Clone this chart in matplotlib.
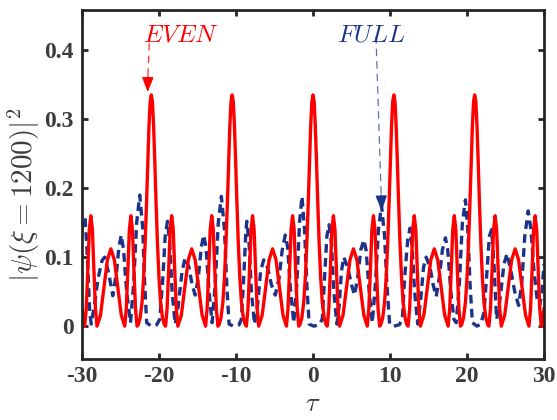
import matplotlib
matplotlib.use("Agg")
import matplotlib.pyplot as plt

plt.rcParams['mathtext.fontset'] = 'cm'

# ---- data ----
red_tau = [
    -30.0, -29.8, -29.65, -29.45, -29.25, -29.05, -28.85, -28.65, -28.45, -28.25, -28.05, -27.6, -27.15, -26.7, -26.25,
    -25.8, -25.35, -24.9, -24.45, -24.25, -24.05, -23.85, -23.65, -23.45, -23.25, -23.05, -22.85, -22.7, -22.45, -22.2,
    -22.0, -21.8, -21.6, -21.45, -21.3, -21.15, -21.0,
    -20.85, -20.7, -20.55, -20.4, -20.2, -20.0, -19.8, -19.55, -19.3, -19.15, -18.95, -18.75, -18.55, -18.35, -18.15,
    -17.95, -17.75, -17.55, -17.1, -16.65, -16.2, -15.75,
    -15.3, -14.85, -14.4, -13.95, -13.75, -13.55, -13.35, -13.15, -12.95, -12.75, -12.55, -12.35, -12.2, -11.95, -11.7,
    -11.5, -11.3, -11.1, -10.95, -10.8, -10.65, -10.5,
    -10.35, -10.2, -10.05, -9.9, -9.7, -9.5, -9.3, -9.05, -8.8, -8.65, -8.45, -8.25, -8.05, -7.85, -7.65, -7.45, -7.25,
    -7.05, -6.6, -6.15, -5.7, -5.25,
    -4.8, -4.35, -3.9, -3.45, -3.25, -3.05, -2.85, -2.65, -2.45, -2.25, -2.05, -1.85, -1.7, -1.45, -1.2, -1.0, -0.8,
    -0.6, -0.45, -0.3, -0.15, 0.0,
    0.15, 0.3, 0.45, 0.6, 0.8, 1.0, 1.2, 1.45, 1.7, 1.85, 2.05, 2.25, 2.45, 2.65, 2.85, 3.05, 3.25, 3.45, 3.9, 4.35,
    4.8, 5.25,
    5.7, 6.15, 6.6, 7.05, 7.25, 7.45, 7.65, 7.85, 8.05, 8.25, 8.45, 8.65, 8.8, 9.05, 9.3, 9.5, 9.7, 9.9, 10.05, 10.2,
    10.35, 10.5,
    10.65, 10.8, 10.95, 11.1, 11.3, 11.5, 11.7, 11.95, 12.2, 12.35, 12.55, 12.75, 12.95, 13.15, 13.35, 13.55, 13.75,
    13.95, 14.4, 14.85, 15.3, 15.75,
    16.2, 16.65, 17.1, 17.55, 17.75, 17.95, 18.15, 18.35, 18.55, 18.75, 18.95, 19.15, 19.3, 19.55, 19.8, 20.0, 20.2,
    20.4, 20.55, 20.7, 20.85, 21.0,
    21.15, 21.3, 21.45, 21.6, 21.8, 22.0, 22.2, 22.45, 22.7, 22.85, 23.05, 23.25, 23.45, 23.65, 23.85, 24.05, 24.25,
    24.45, 24.9, 25.35, 25.8, 26.25,
    26.7, 27.15, 27.6, 28.05, 28.25, 28.45, 28.65, 28.85, 29.05, 29.25, 29.45, 29.65, 29.8, 30.0,
]
red_psi = [
    0.025, 0.006, 0.0, 0.025, 0.08, 0.14, 0.16, 0.14, 0.08, 0.025, 0.0, 0.016, 0.056, 0.096, 0.112,
    0.096, 0.056, 0.016, 0.0, 0.025, 0.08, 0.14, 0.16, 0.14, 0.08, 0.025, 0.0, 0.002, 0.012, 0.035,
    0.07, 0.12, 0.185, 0.24, 0.29, 0.325, 0.335,
    0.325, 0.29, 0.24, 0.185, 0.12, 0.07, 0.035, 0.012, 0.002, 0.0, 0.025, 0.08, 0.14, 0.16, 0.14,
    0.08, 0.025, 0.0, 0.016, 0.056, 0.096, 0.112,
    0.096, 0.056, 0.016, 0.0, 0.025, 0.08, 0.14, 0.16, 0.14, 0.08, 0.025, 0.0, 0.002, 0.012, 0.035,
    0.07, 0.12, 0.185, 0.24, 0.29, 0.325, 0.335,
    0.325, 0.29, 0.24, 0.185, 0.12, 0.07, 0.035, 0.012, 0.002, 0.0, 0.025, 0.08, 0.14, 0.16, 0.14, 0.08, 0.025,
    0.0, 0.016, 0.056, 0.096, 0.112,
    0.096, 0.056, 0.016, 0.0, 0.025, 0.08, 0.14, 0.16, 0.14, 0.08, 0.025, 0.0, 0.002, 0.012, 0.035, 0.07, 0.12,
    0.185, 0.24, 0.29, 0.325, 0.335,
    0.325, 0.29, 0.24, 0.185, 0.12, 0.07, 0.035, 0.012, 0.002, 0.0, 0.025, 0.08, 0.14, 0.16, 0.14, 0.08, 0.025, 0.0,
    0.016, 0.056, 0.096, 0.112,
    0.096, 0.056, 0.016, 0.0, 0.025, 0.08, 0.14, 0.16, 0.14, 0.08, 0.025, 0.0, 0.002, 0.012, 0.035, 0.07, 0.12,
    0.185, 0.24, 0.29, 0.325, 0.335,
    0.325, 0.29, 0.24, 0.185, 0.12, 0.07, 0.035, 0.012, 0.002, 0.0, 0.025, 0.08, 0.14, 0.16, 0.14, 0.08, 0.025,
    0.0, 0.016, 0.056, 0.096, 0.112,
    0.096, 0.056, 0.016, 0.0, 0.025, 0.08, 0.14, 0.16, 0.14, 0.08, 0.025, 0.0, 0.002, 0.012, 0.035, 0.07, 0.12,
    0.185, 0.24, 0.29, 0.325, 0.335,
    0.325, 0.29, 0.24, 0.185, 0.12, 0.07, 0.035, 0.012, 0.002, 0.0, 0.025, 0.08, 0.14, 0.16, 0.14, 0.08, 0.025,
    0.0, 0.016, 0.056, 0.096, 0.112,
    0.096, 0.056, 0.016, 0.0, 0.025, 0.08, 0.14, 0.16, 0.14, 0.08, 0.025, 0.0, 0.006, 0.025,
]

blue_tau = [
    -30.0, -29.6, -29.3, -29.0, -28.8, -28.4, -27.9, -27.4, -27.05, -26.5, -26.0, -25.5, -25.2, -24.9, -24.6, -24.2,
    -23.7, -23.3, -22.9, -22.5, -22.1, -21.9, -21.6, -21.0, -20.3, -19.9, -19.5, -19.2, -18.9, -18.6, -18.3, -17.9,
    -17.5, -17.0, -16.6, -16.1, -15.7, -15.3, -14.9, -14.5, -14.2, -13.9, -13.5, -13.1, -12.7, -12.3, -11.9, -11.5,
    -11.2, -10.9, -10.3, -9.6, -9.3, -9.0, -8.75, -8.6, -8.3, -8.0, -7.6, -7.2, -6.8, -6.4, -5.9, -5.4, -4.9, -4.4,
    -4.0, -3.6, -3.3, -2.9, -2.5, -2.1, -1.75, -1.43, -1.1, -0.8, -0.5, 0.1, 0.8, 1.2, 1.5, 1.8, 2.08, 2.4, 2.7,
    3.1, 3.4, 3.7, 4.0, 4.5, 5.0, 5.4, 5.8, 6.2, 6.6, 6.9, 7.3, 7.7, 8.1, 8.5, 8.9, 9.3, 9.6, 9.95, 10.5, 11.2,
    11.6, 11.9, 12.3, 12.6, 12.9, 13.2, 13.6, 14.0, 14.35, 14.7, 15.2, 15.6, 16.0, 16.4, 16.8, 17.2, 17.5, 17.9,
    18.3, 18.6, 19.0, 19.4, 19.8, 20.1, 20.4, 20.7, 21.3, 21.8, 22.2, 22.6, 22.9, 23.2, 23.5, 23.85, 24.3, 24.8,
    25.2, 25.7, 26.2, 26.7, 27.1, 27.5, 27.95, 28.3, 28.7, 29.1, 29.45, 29.75, 30.0,
]
blue_psi = [
    0.14, 0.158, 0.10, 0.02, 0.003, 0.03, 0.07, 0.095, 0.10, 0.075, 0.044, 0.08, 0.115, 0.132, 0.11, 0.05,
    0.005, 0.06, 0.15, 0.19, 0.14, 0.07, 0.005, 0.0, 0.002, 0.01, 0.07, 0.13, 0.152, 0.12, 0.05, 0.003,
    0.03, 0.08, 0.099, 0.085, 0.06, 0.045, 0.07, 0.115, 0.132, 0.115, 0.05, 0.005, 0.06, 0.15, 0.188, 0.14,
    0.06, 0.003, 0.0, 0.002, 0.01, 0.07, 0.13, 0.152, 0.12, 0.05, 0.003, 0.03, 0.08, 0.096, 0.085, 0.06, 0.045, 0.07,
    0.11, 0.132, 0.115, 0.05, 0.005, 0.06, 0.15, 0.188, 0.14, 0.06, 0.003, 0.0, 0.002, 0.01, 0.07, 0.13, 0.147, 0.12, 0.05,
    0.003, 0.03, 0.08, 0.10, 0.085, 0.06, 0.045, 0.07, 0.11, 0.125, 0.11, 0.05, 0.005, 0.06, 0.14, 0.175, 0.13, 0.06,
    0.003, 0.0, 0.002,
    0.01, 0.07, 0.125, 0.142, 0.11, 0.05, 0.003, 0.04, 0.085, 0.10, 0.085, 0.06, 0.043, 0.07, 0.11, 0.128, 0.11, 0.05,
    0.01, 0.005, 0.06, 0.15, 0.183, 0.14, 0.06, 0.005, 0.0, 0.003, 0.02, 0.08, 0.13, 0.14, 0.09, 0.01, 0.04, 0.09,
    0.105, 0.08, 0.05, 0.03, 0.06, 0.13, 0.167, 0.14, 0.08, 0.04, 0.03, 0.05, 0.09,
]

x_ticks = [-30, -20, -10, 0, 10, 20, 30]
x_ticklabels = ['-30', '-20', '-10', '0', '10', '20', '30']
y_ticks = [0, 0.1, 0.2, 0.3, 0.4]
y_ticklabels = ['0', '0.1', '0.2', '0.3', '0.4']

RED = '#ff0000'
BLUE = '#1b3389'
AXC = '#262626'
TXC = '#3c3c3c'

fig = plt.figure(figsize=(5.57, 4.20), dpi=100)
ax = fig.add_axes([82 / 557, (420 - 359.3) / 420, (544 - 82) / 557, (359.3 - 10) / 420])

ax.plot(blue_tau, blue_psi, color=BLUE, lw=2.4, linestyle=(0, (2.6, 1.6)))
ax.plot(red_tau, red_psi, color=RED, lw=2.4, solid_joinstyle='round')

ax.set_xlim(-30, 30)
ax.set_ylim(-0.048, 0.458)

ax.set_xticks(x_ticks)
ax.set_xticklabels(x_ticklabels)
ax.set_yticks(y_ticks)
ax.set_yticklabels(y_ticklabels)
for lab in ax.get_xticklabels() + ax.get_yticklabels():
    lab.set_fontfamily('Liberation Serif')
    lab.set_fontweight('bold')
    lab.set_fontsize(17)
    lab.set_color(TXC)

ax.tick_params(direction='in', length=4.5, width=2.0, color=AXC, top=True, right=True)
ax.tick_params(axis='x', pad=5)
ax.tick_params(axis='y', pad=6)
for s in ax.spines.values():
    s.set_linewidth(2.0)
    s.set_color(AXC)

ax.set_xlabel(r'$\tau$', fontsize=19, color=TXC, va='center')
ax.xaxis.set_label_coords(0.5, -0.128)
ax.set_ylabel(r'$|\psi(\xi=1200)|^2$', fontsize=21, color=TXC, va='center')
ax.yaxis.set_label_coords(-0.125, 0.47)

# annotations
ax.text(-22.08, 0.422, r'$EVEN$', color=RED, fontsize=18, ha='left', va='center')
ax.text(3.12, 0.422, r'$FULL$', color=BLUE, fontsize=18, ha='left', va='center')

ax.plot([-21.26, -21.45], [0.41, 0.36], color=RED, lw=0.9, linestyle=(0, (6, 4)), alpha=0.8)
ax.annotate('', xy=(-21.47, 0.339), xytext=(-21.45, 0.362),
            arrowprops=dict(arrowstyle='-|>,head_length=0.9,head_width=0.35', color=RED, lw=1,
                            shrinkA=0, shrinkB=0))
ax.plot([8.18, 8.85], [0.42, 0.19], color=BLUE, lw=0.9, linestyle=(0, (6, 4)), alpha=0.7)
ax.annotate('', xy=(8.92, 0.1675), xytext=(8.86, 0.19),
            arrowprops=dict(arrowstyle='-|>,head_length=0.9,head_width=0.35', color=BLUE, lw=1,
                            shrinkA=0, shrinkB=0))

fig.savefig('out.png', dpi=100)
